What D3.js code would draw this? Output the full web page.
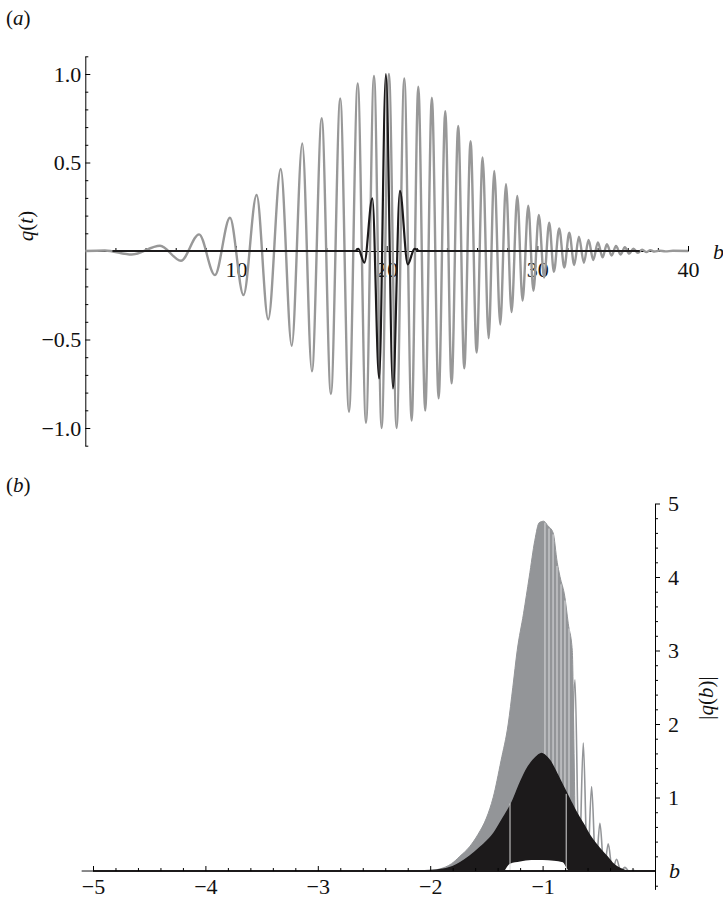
<!DOCTYPE html>
<html>
<head>
<meta charset="utf-8">
<script src="https://cdn.jsdelivr.net/npm/d3@7"></script>
<style>
  body { margin: 0; background: #fff; }
  svg { display: block; }
  text { font-family: "Liberation Serif", "Times New Roman", serif; fill: #111; }
  .axis path, .axis line { stroke: #000; }
  .axis text { font-size: 22px; font-family: "Liberation Serif", "Times New Roman", serif; fill: #111; }
</style>
</head>
<body>
<div id="chart"></div>
<script>
// ---- panel (a): extrema of q(t) [b, q]
var grayA = [
  [0, 0], [1.3, 0.003], [3.08, -0.02], [4.96, 0.03], [6.35, -0.055], [7.55, 0.094],
  [8.6, -0.136], [9.6, 0.188], [10.5, -0.249], [11.37, 0.316], [12.14, -0.386],
  [12.97, 0.463], [13.7, -0.535], [14.4, 0.608], [15.04, -0.68], [15.69, 0.75],
  [16.3, -0.808], [16.92, 0.862], [17.5, -0.908], [18.08, 0.947], [18.63, -0.97],
  [19.16, 0.989], [19.67, -1.0], [20.15, 1.0], [20.66, -1.0], [21.17, 0.975],
  [21.66, -0.958], [22.1, 0.928], [22.56, -0.902], [23.0, 0.866], [23.45, -0.832],
  [23.89, 0.79], [24.31, -0.748], [24.75, 0.706], [25.15, -0.663], [25.57, 0.621],
  [25.97, -0.574], [26.37, 0.529], [26.77, -0.493], [27.14, 0.452], [27.54, -0.415],
  [27.92, 0.377], [28.29, -0.345], [28.67, 0.311], [29.02, -0.28], [29.4, 0.256],
  [29.74, -0.225], [30.1, 0.203], [30.45, -0.15], [30.79, 0.16], [31.1, -0.117],
  [31.45, 0.128], [31.79, -0.093], [32.12, 0.104], [32.45, -0.079], [32.76, 0.081],
  [33.09, -0.066], [33.4, 0.062], [33.71, -0.051], [34.02, 0.049], [34.33, -0.036],
  [34.62, 0.038], [34.93, -0.026], [35.22, 0.028], [35.53, -0.02], [35.81, 0.021],
  [36.1, -0.015], [36.38, 0.013], [36.67, -0.01], [36.96, 0.008], [37.24, -0.006],
  [37.5, 0.005], [37.77, -0.003], [38.1, 0.002], [38.5, -0.002], [39.0, 0.001], [40, 0]
];
var blackA = [
  [1.8, 0], [17.9, 0], [18.12, 0.012], [18.52, -0.066], [19.05, 0.298], [19.5, -0.72],
  [19.95, 1.0], [20.42, -0.776], [20.88, 0.34], [21.4, -0.075], [21.85, 0.012],
  [22.2, 0], [36.8, 0]
];
var aXTicks = [10, 20, 30, 40];
var aYTicks = [-1.0, -0.5, 0.5, 1.0];

// ---- panel (b): envelopes of |q(b)| [b, |q|]
var grayEnvB = [
  [-5.1, 0], [-2.1, 0], [-1.98, 0.01], [-1.91, 0.03], [-1.81, 0.1], [-1.736, 0.2],
  [-1.65, 0.33], [-1.574, 0.5], [-1.5, 0.72], [-1.44, 1.0], [-1.37, 1.5], [-1.306, 2.0],
  [-1.265, 2.5], [-1.226, 3.0], [-1.17, 3.5], [-1.119, 4.0], [-1.069, 4.5],
  [-1.03, 4.74], [-0.99, 4.76], [-0.955, 4.7], [-0.906, 4.6], [-0.87, 4.2], [-0.846, 4.01],
  [-0.801, 3.72], [-0.772, 3.37], [-0.736, 3.0], [-0.72, 1.6], [-0.705, 0]
];
var grayLobesB = [
  [-0.75, 0.1], [-0.712, 2.6], [-0.675, 0.05], [-0.638, 1.74], [-0.601, 0.03],
  [-0.564, 1.15], [-0.527, 0.02], [-0.49, 0.65], [-0.453, 0.01], [-0.416, 0.37],
  [-0.379, 0], [-0.342, 0.16], [-0.305, 0], [-0.268, 0.05], [-0.231, 0],
  [-0.194, 0.01], [-0.16, 0], [0, 0]
];
// thin light gaps between lobes inside the gray fill [b, top, bottom]
var grayGapsB = [
  [-0.979, 4.74, 1.5], [-0.943, 4.66, 1.5], [-0.907, 4.58, 1.38], [-0.872, 4.15, 1.3],
  [-0.836, 3.9, 1.2], [-0.801, 3.68, 1.1], [-0.765, 3.3, 1.0]
];
var blackEnvB = [
  [-5, 0], [-2.15, 0], [-1.95, 0.01], [-1.8, 0.06], [-1.65, 0.2], [-1.55, 0.33],
  [-1.44, 0.5], [-1.36, 0.7], [-1.276, 0.92], [-1.202, 1.19], [-1.143, 1.38],
  [-1.083, 1.51], [-1.04, 1.575], [-1.009, 1.6], [-0.98, 1.575], [-0.935, 1.5],
  [-0.875, 1.33], [-0.816, 1.15],
  [-0.757, 0.97], [-0.697, 0.79], [-0.638, 0.64], [-0.579, 0.48], [-0.5, 0.32],
  [-0.43, 0.2], [-0.38, 0.11], [-0.33, 0.05], [-0.28, 0.015], [-0.24, 0], [0, 0]
];
// white gap under the dense part (minima stay above zero there)
var lowerEnvB = [
  [-1.34, 0], [-1.29, 0.1], [-1.2, 0.13], [-1.1, 0.15], [-1.0, 0.15],
  [-0.9, 0.14], [-0.82, 0.12], [-0.79, 0.05], [-0.77, 0]
];
var blackGapsB = [[-1.29, 0.92, 0], [-0.79, 1.05, 0]];
var bXTicks = [-5, -4, -3, -2, -1];
var bYTicks = [1, 2, 3, 4, 5];

var grayA_col = "#989898", grayB_col = "#939598", blackCol = "#1c1a1b";

var svg = d3.select("#chart").append("svg")
  .attr("width", 723).attr("height", 900);

// ================= panel (a)
var xA = d3.scaleLinear().domain([0, 40]).range([85.3, 688]);
var yA = d3.scaleLinear().domain([-1.1, 1.1]).range([445.7, 56.3]);

var lineA = d3.line()
  .x(d => xA(d[0]))
  .y(d => yA(d[1]))
  .curve(d3.curveMonotoneX);

var gA = svg.append("g");

// axes first so the curves sit on top
gA.append("g").attr("class", "axis")
  .attr("transform", `translate(0,${yA(0)})`)
  .call(d3.axisBottom(xA).tickValues(aXTicks).tickSize(-5).tickSizeOuter(0)
    .tickPadding(10).tickFormat(d3.format("d")));
gA.append("g").attr("class", "axis")
  .attr("transform", `translate(0,${yA(0)})`)
  .call(d3.axisBottom(xA).tickValues(d3.range(2, 40, 2).filter(v => v % 10 != 0))
    .tickSize(-3).tickFormat(""))
  .select(".domain").remove();

gA.append("g").attr("class", "axis")
  .attr("transform", `translate(${xA(0)},0)`)
  .call(d3.axisLeft(yA).tickValues(aYTicks).tickSize(-5).tickSizeOuter(0)
    .tickPadding(4).tickFormat(d3.format(".1f")));
gA.append("g").attr("class", "axis")
  .attr("transform", `translate(${xA(0)},0)`)
  .call(d3.axisLeft(yA).tickValues(d3.range(-11, 12).map(v => v / 10).filter(v => v % 0.5 != 0))
    .tickSize(-3).tickFormat(""))
  .select(".domain").remove();

gA.append("path").datum(grayA)
  .attr("d", lineA)
  .attr("fill", "none")
  .attr("stroke", grayA_col)
  .attr("stroke-width", 2.4)
  .attr("stroke-linejoin", "round");

gA.append("path").datum(blackA)
  .attr("d", lineA)
  .attr("fill", "none")
  .attr("stroke", blackCol)
  .attr("stroke-width", 2.2)
  .attr("stroke-linejoin", "round");

gA.append("text").attr("x", 6).attr("y", 25)
  .attr("font-size", "21px")
  .html('(<tspan font-style="italic">a</tspan>)');

gA.append("text").attr("x", 713).attr("y", 259)
  .attr("font-size", "22px").attr("font-style", "italic").text("b");

gA.append("text")
  .attr("transform", "translate(33,226) rotate(-90)")
  .attr("text-anchor", "middle")
  .attr("font-size", "21px")
  .html('<tspan font-style="italic">q</tspan>(<tspan font-style="italic">t</tspan>)');

// ================= panel (b)
var xB = d3.scaleLinear().domain([-5, 0]).range([93, 655]);
var yB = d3.scaleLinear().domain([-0.25, 5]).range([889.4, 503.5]);

var areaB = d3.area()
  .x(d => xB(d[0]))
  .y0(yB(0))
  .y1(d => yB(d[1]))
  .curve(d3.curveMonotoneX);
var lineB = d3.line()
  .x(d => xB(d[0]))
  .y(d => yB(d[1]))
  .curve(d3.curveMonotoneX);

var gB = svg.append("g");

gB.append("path").datum(grayEnvB)
  .attr("d", areaB)
  .attr("fill", grayB_col)
  .attr("stroke", grayB_col)
  .attr("stroke-width", 1);

gB.selectAll(".ggap").data(grayGapsB).enter().append("line")
  .attr("class", "ggap")
  .attr("x1", d => xB(d[0])).attr("x2", d => xB(d[0]))
  .attr("y1", d => yB(d[1])).attr("y2", d => yB(d[2]))
  .attr("stroke", "#e4e4e6").attr("stroke-width", 0.9);

gB.append("path").datum(grayLobesB)
  .attr("d", lineB)
  .attr("fill", "none")
  .attr("stroke", grayB_col)
  .attr("stroke-width", 1.6);

gB.append("path").datum(blackEnvB)
  .attr("d", areaB)
  .attr("fill", blackCol)
  .attr("stroke", blackCol)
  .attr("stroke-width", 1.5);

gB.append("path").datum(lowerEnvB)
  .attr("d", areaB)
  .attr("fill", "#fff");

gB.selectAll(".bgap").data(blackGapsB).enter().append("line")
  .attr("class", "bgap")
  .attr("x1", d => xB(d[0])).attr("x2", d => xB(d[0]))
  .attr("y1", d => yB(d[1])).attr("y2", d => yB(d[2]))
  .attr("stroke", "#d8d8d8").attr("stroke-width", 1);

// x axis of (b)
gB.append("line")
  .attr("x1", xB(-5.1)).attr("x2", xB(0))
  .attr("y1", yB(0)).attr("y2", yB(0))
  .attr("stroke", "#666").attr("stroke-width", 1);
gB.append("line")
  .attr("x1", xB(-5)).attr("x2", xB(0))
  .attr("y1", yB(0)).attr("y2", yB(0))
  .attr("stroke", blackCol).attr("stroke-width", 2);

gB.append("g").attr("class", "axis")
  .attr("transform", `translate(0,${yB(0)})`)
  .call(d3.axisBottom(xB).tickValues(bXTicks).tickSize(-5).tickSizeOuter(0)
    .tickPadding(7).tickFormat(d3.format("d")))
  .select(".domain").remove();
gB.append("g").attr("class", "axis")
  .attr("transform", `translate(0,${yB(0)})`)
  .call(d3.axisBottom(xB).tickValues(d3.range(-25, 1).map(v => v / 5).filter(v => !Number.isInteger(v) || v == 0))
    .tickSize(-3).tickFormat(""))
  .select(".domain").remove();

// y axis of (b), on the right
gB.append("g").attr("class", "axis")
  .attr("transform", `translate(${xB(0)},0)`)
  .call(d3.axisRight(yB).tickValues(bYTicks).tickSize(5).tickSizeOuter(0)
    .tickPadding(8).tickFormat(d3.format("d")));
gB.append("g").attr("class", "axis")
  .attr("transform", `translate(${xB(0)},0)`)
  .call(d3.axisRight(yB).tickValues(d3.range(-1, 25).map(v => v / 5).filter(v => !Number.isInteger(v)))
    .tickSize(3).tickFormat(""))
  .select(".domain").remove();

gB.append("text").attr("x", 6).attr("y", 492)
  .attr("font-size", "21px")
  .html('(<tspan font-style="italic">b</tspan>)');

gB.append("text").attr("x", 669).attr("y", 878)
  .attr("font-size", "22px").attr("font-style", "italic").text("b");

gB.append("text")
  .attr("transform", "translate(713,698) rotate(-90)")
  .attr("text-anchor", "middle")
  .attr("font-size", "21px")
  .html('|<tspan font-style="italic">q</tspan>(<tspan font-style="italic">b</tspan>)|');
</script>
</body>
</html>
